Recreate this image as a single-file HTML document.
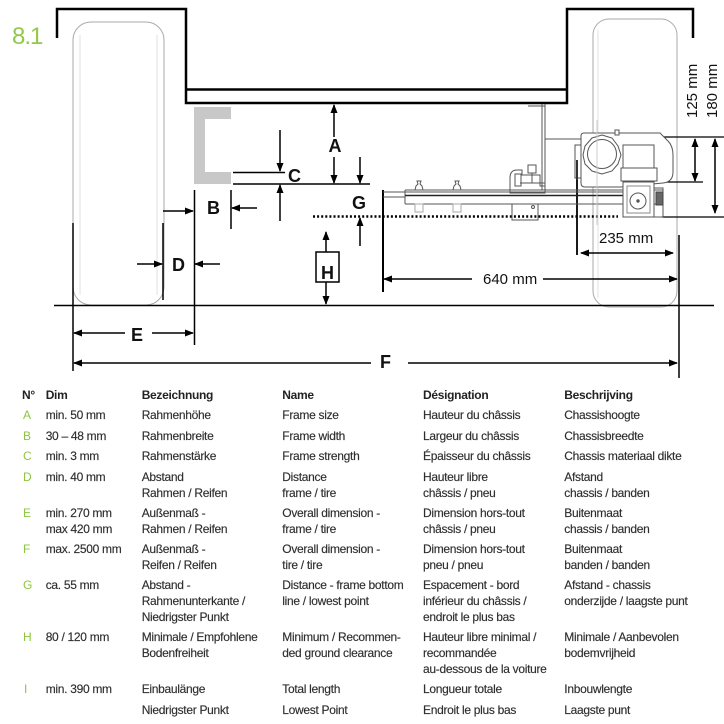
<!DOCTYPE html>
<html><head><meta charset="utf-8"><style>
html,body{margin:0;padding:0;background:#fff;}
svg{display:block;}
.t{font-family:"Liberation Sans",sans-serif;font-size:12px;fill:#2e2e2e;stroke:#2e2e2e;stroke-width:0.15;letter-spacing:-0.3px;}
.h{font-family:"Liberation Sans",sans-serif;font-size:12px;font-weight:bold;fill:#222;letter-spacing:-0.3px;}
.g{font-family:"Liberation Sans",sans-serif;font-size:12px;fill:#8cc63e;}
.L{font-family:"Liberation Sans",sans-serif;font-size:18px;font-weight:bold;fill:#111;}
.m{font-family:"Liberation Sans",sans-serif;font-size:15px;fill:#111;}
</style></head><body>
<svg width="724" height="724" viewBox="0 0 724 724" xmlns="http://www.w3.org/2000/svg">
<defs>
<marker id="ah" markerUnits="userSpaceOnUse" markerWidth="9" markerHeight="7" refX="8" refY="3.5" orient="auto">
<path d="M0,0 L9,3.5 L0,7 z" fill="#000"/>
</marker>
</defs>

<!-- 8.1 -->
<text x="12" y="44" font-family="Liberation Sans,sans-serif" font-size="24" fill="#92c84a" letter-spacing="-1">8.1</text>

<!-- tires -->
<rect x="73" y="22" width="91" height="283" rx="18" fill="none" stroke="#aaa" stroke-width="1"/>
<line x1="80" y1="35" x2="80" y2="295" stroke="#e2e2e2" stroke-width="1"/>
<line x1="157" y1="35" x2="157" y2="295" stroke="#e2e2e2" stroke-width="1"/>
<rect x="593" y="19" width="84" height="288" rx="16" fill="none" stroke="#aaa" stroke-width="1"/>
<line x1="598" y1="30" x2="598" y2="298" stroke="#e2e2e2" stroke-width="1"/>

<!-- car body -->
<path d="M57,38 V9 H186 V103 H567 V9 H693 V38" fill="none" stroke="#000" stroke-width="2.5"/>
<line x1="187" y1="89.5" x2="566" y2="89.5" stroke="#000" stroke-width="2.5"/>

<!-- C channel -->
<path d="M194,107 H231 V119 H205 V172 H231 V184 H194 Z" fill="#c8c8c8"/>

<!-- reference lines -->
<line x1="73" y1="223" x2="73" y2="371" stroke="#000" stroke-width="1.5"/>
<line x1="163" y1="223" x2="163" y2="300" stroke="#000" stroke-width="1.5"/>
<line x1="194.5" y1="190" x2="194.5" y2="345" stroke="#000" stroke-width="1.5"/>
<line x1="231" y1="190" x2="231" y2="229" stroke="#000" stroke-width="1.5"/>
<line x1="233" y1="172.5" x2="285" y2="172.5" stroke="#000" stroke-width="1.5"/>
<line x1="233" y1="184" x2="370" y2="184" stroke="#000" stroke-width="1.5"/>
<line x1="54" y1="305.5" x2="714" y2="305.5" stroke="#000" stroke-width="1.5"/>
<line x1="679" y1="235" x2="679" y2="378" stroke="#000" stroke-width="1.5"/>
<line x1="383" y1="190" x2="383" y2="292" stroke="#000" stroke-width="2"/>
<line x1="577" y1="157" x2="577" y2="255" stroke="#000" stroke-width="1.8"/>

<!-- dotted line -->
<line x1="313" y1="216.5" x2="618" y2="216.5" stroke="#000" stroke-width="2.5" stroke-dasharray="2,2.1"/>

<!-- dimension arrows -->
<g stroke="#000" stroke-width="1.5" fill="none" marker-end="url(#ah)">
<line x1="334" y1="137" x2="334" y2="105"/>
<line x1="334" y1="157" x2="334" y2="183"/>
<line x1="280" y1="130" x2="280" y2="171"/>
<line x1="280" y1="221" x2="280" y2="185"/>
<line x1="360" y1="157" x2="360" y2="183"/>
<line x1="360" y1="246" x2="360" y2="218"/>
<line x1="163" y1="211" x2="193" y2="211"/>
<line x1="257" y1="208" x2="232" y2="208"/>
<line x1="137" y1="264" x2="162" y2="264"/>
<line x1="220" y1="264" x2="195" y2="264"/>
<line x1="326" y1="252" x2="326" y2="232"/>
<line x1="326" y1="282" x2="326" y2="304"/>
<line x1="125" y1="333" x2="74" y2="333"/>
<line x1="152" y1="333" x2="193" y2="333"/>
<line x1="371" y1="363" x2="74" y2="363"/>
<line x1="408" y1="363" x2="677" y2="363"/>
<line x1="472" y1="279" x2="384" y2="279"/>
<line x1="543" y1="279" x2="677" y2="279"/>
<line x1="627" y1="253" x2="581" y2="253"/>
<line x1="627" y1="253" x2="673" y2="253"/>
<line x1="695" y1="160" x2="695" y2="139"/>
<line x1="695" y1="160" x2="695" y2="181"/>
<line x1="715" y1="176" x2="715" y2="139"/>
<line x1="715" y1="176" x2="715" y2="213"/>
</g>

<!-- H box -->
<rect x="316" y="252" width="23" height="30" fill="#fff" stroke="#000" stroke-width="1.5"/>

<!-- right side extension lines -->
<line x1="659" y1="137" x2="724" y2="137" stroke="#000" stroke-width="1.2"/>
<line x1="657" y1="182" x2="703" y2="182" stroke="#000" stroke-width="1.2"/>
<line x1="662" y1="217" x2="724" y2="217" stroke="#000" stroke-width="1.2"/>

<!-- labels -->
<text class="L" x="335" y="152" text-anchor="middle">A</text>
<text class="L" x="288" y="182">C</text>
<text class="L" x="207" y="214">B</text>
<text class="L" x="352" y="209">G</text>
<text class="L" x="172" y="271">D</text>
<text class="L" x="321" y="279">H</text>
<text class="L" x="131" y="341">E</text>
<text class="L" x="380" y="368">F</text>
<text class="m" x="483" y="284">640 mm</text>
<text class="m" x="599" y="243">235 mm</text>
<text class="m" font-size="14.5" transform="translate(697,118) rotate(-90)">125 mm</text>
<text class="m" font-size="14.5" transform="translate(717,118) rotate(-90)">180 mm</text>

<!-- machine: support -->
<g stroke="#555" stroke-width="1" fill="none">
<line x1="542" y1="104" x2="542" y2="190"/>
<line x1="545" y1="104" x2="545" y2="190"/>
<line x1="528" y1="106" x2="545" y2="106"/>
<line x1="545" y1="139" x2="581" y2="139"/>
<!-- rail -->
<line x1="383" y1="192" x2="623" y2="192"/>
<line x1="383" y1="197" x2="405" y2="197"/>
<line x1="405" y1="190" x2="405" y2="204"/>
<line x1="405" y1="190" x2="623" y2="190"/>
<line x1="405" y1="195.5" x2="623" y2="195.5" stroke="#222" stroke-width="1.4"/>
<line x1="405" y1="204" x2="623" y2="204"/>
<line x1="654" y1="190" x2="663" y2="190"/>
<line x1="654" y1="204" x2="663" y2="204"/>
<rect x="653" y="188" width="10" height="29"/>
<!-- under-rail brackets -->
<rect x="415" y="204" width="8" height="8" stroke="#aaa"/>
<rect x="453" y="204" width="8" height="8" stroke="#aaa"/>
<rect x="512" y="204" width="26" height="16"/>
<circle cx="533" cy="207" r="1.5"/>
<!-- knobs -->
<path d="M415,190 L416,186 L418,184 L417,181 L421,181 L420,184 L422,186 L423,190"/>
<path d="M453,190 L454,186 L456,184 L455,181 L459,181 L458,184 L460,186 L461,190"/>
<!-- clamp -->
<path d="M510,190 V178 Q510,170 517,170 H522 V175 H540 V186 H545 V193 H510 Z"/>
<rect x="515" y="174" width="6" height="12"/>
<rect x="528" y="165" width="8" height="8"/>
<line x1="532" y1="173" x2="532" y2="183"/>
<line x1="520" y1="183" x2="545" y2="183"/>
</g>

<!-- motor -->
<g stroke="#555" stroke-width="1" fill="#fff">
<path d="M575,145 H581 V178 H575 Z"/>
<path d="M581,136 Q581,133 584,133 H660 L668,141 Q673,146 673,155 V172 Q673,182 663,183 L621,187 H585 Q581,187 581,183 Z"/>
<path d="M602,135 L612,138 L618,146 L621,155 L618,164 L612,171 L602,174 L592,171 L585,164 L583,155 L585,146 L592,138 Z"/>
<circle cx="602" cy="154" r="14.5"/>
<rect x="615" y="130" width="4" height="5"/>
<line x1="577" y1="160" x2="577" y2="180" stroke="#333" stroke-width="2"/>
<rect x="623" y="145" width="31" height="23"/>
<rect x="621" y="168" width="36" height="13"/>
<path d="M623,182 H654 V217 H623 Z"/>
<path d="M627,186 H650 V213 H627 Z" stroke="#888"/>
<circle cx="638" cy="201" r="8"/>
<circle cx="638" cy="201" r="1.2" fill="#555"/>
<rect x="656" y="192" width="7" height="13" fill="#666" stroke="#444"/>
<line x1="597" y1="120" x2="597" y2="225" stroke="#ccc"/>
</g>

<!-- table header -->
<text class="h" x="22" y="399">N°</text>
<text class="h" x="45.7" y="399">Dim</text>
<text class="h" x="141.7" y="399">Bezeichnung</text>
<text class="h" x="282.3" y="399">Name</text>
<text class="h" x="423" y="399">Désignation</text>
<text class="h" x="564.3" y="399">Beschrijving</text>

<!-- rows -->
<g class="g">
<text x="23" y="419">A</text>
<text x="23" y="440">B</text>
<text x="23" y="460">C</text>
<text x="23" y="481">D</text>
<text x="23" y="517">E</text>
<text x="23" y="553">F</text>
<text x="23" y="589">G</text>
<text x="23" y="641">H</text>
<text x="24" y="693">I</text>
</g>

<g class="t">
<text x="45.7" y="419">min. 50 mm</text>
<text x="141.7" y="419">Rahmenhöhe</text>
<text x="282.3" y="419">Frame size</text>
<text x="423" y="419">Hauteur du châssis</text>
<text x="564.3" y="419">Chassishoogte</text>

<text x="45.7" y="440">30 – 48 mm</text>
<text x="141.7" y="440">Rahmenbreite</text>
<text x="282.3" y="440">Frame width</text>
<text x="423" y="440">Largeur du châssis</text>
<text x="564.3" y="440">Chassisbreedte</text>

<text x="45.7" y="460">min. 3 mm</text>
<text x="141.7" y="460">Rahmenstärke</text>
<text x="282.3" y="460">Frame strength</text>
<text x="423" y="460">Épaisseur du châssis</text>
<text x="564.3" y="460">Chassis materiaal dikte</text>

<text x="45.7" y="481">min. 40 mm</text>
<text x="141.7" y="481">Abstand</text>
<text x="141.7" y="497">Rahmen / Reifen</text>
<text x="282.3" y="481">Distance</text>
<text x="282.3" y="497">frame / tire</text>
<text x="423" y="481">Hauteur libre</text>
<text x="423" y="497">châssis / pneu</text>
<text x="564.3" y="481">Afstand</text>
<text x="564.3" y="497">chassis / banden</text>

<text x="45.7" y="517">min. 270 mm</text>
<text x="45.7" y="533">max 420 mm</text>
<text x="141.7" y="517">Außenmaß -</text>
<text x="141.7" y="533">Rahmen / Reifen</text>
<text x="282.3" y="517">Overall dimension -</text>
<text x="282.3" y="533">frame / tire</text>
<text x="423" y="517">Dimension hors-tout</text>
<text x="423" y="533">châssis / pneu</text>
<text x="564.3" y="517">Buitenmaat</text>
<text x="564.3" y="533">chassis / banden</text>

<text x="45.7" y="553">max. 2500 mm</text>
<text x="141.7" y="553">Außenmaß -</text>
<text x="141.7" y="569">Reifen / Reifen</text>
<text x="282.3" y="553">Overall dimension -</text>
<text x="282.3" y="569">tire / tire</text>
<text x="423" y="553">Dimension hors-tout</text>
<text x="423" y="569">pneu / pneu</text>
<text x="564.3" y="553">Buitenmaat</text>
<text x="564.3" y="569">banden / banden</text>

<text x="45.7" y="589">ca. 55 mm</text>
<text x="141.7" y="589">Abstand -</text>
<text x="141.7" y="605">Rahmenunterkante /</text>
<text x="141.7" y="621">Niedrigster Punkt</text>
<text x="282.3" y="589">Distance - frame bottom</text>
<text x="282.3" y="605">line / lowest point</text>
<text x="423" y="589">Espacement - bord</text>
<text x="423" y="605">inférieur du châssis /</text>
<text x="423" y="621">endroit le plus bas</text>
<text x="564.3" y="589">Afstand - chassis</text>
<text x="564.3" y="605">onderzijde / laagste punt</text>

<text x="45.7" y="641">80 / 120 mm</text>
<text x="141.7" y="641">Minimale / Empfohlene</text>
<text x="141.7" y="657">Bodenfreiheit</text>
<text x="282.3" y="641">Minimum / Recommen-</text>
<text x="282.3" y="657">ded ground clearance</text>
<text x="423" y="641">Hauteur libre minimal /</text>
<text x="423" y="657">recommandée</text>
<text x="423" y="673">au-dessous de la voiture</text>
<text x="564.3" y="641">Minimale / Aanbevolen</text>
<text x="564.3" y="657">bodemvrijheid</text>

<text x="45.7" y="693">min. 390 mm</text>
<text x="141.7" y="693">Einbaulänge</text>
<text x="282.3" y="693">Total length</text>
<text x="423" y="693">Longueur totale</text>
<text x="564.3" y="693">Inbouwlengte</text>

<text x="141.7" y="714">Niedrigster Punkt</text>
<text x="282.3" y="714">Lowest Point</text>
<text x="423" y="714">Endroit le plus bas</text>
<text x="564.3" y="714">Laagste punt</text>
</g>
</svg>
</body></html>
